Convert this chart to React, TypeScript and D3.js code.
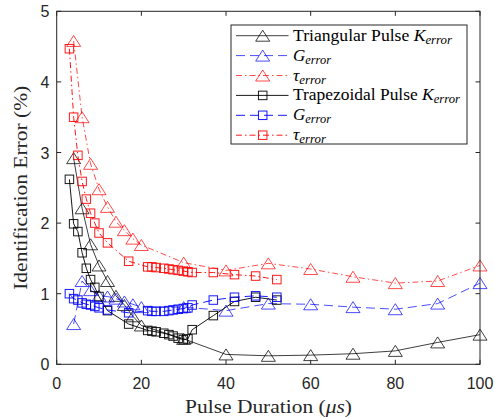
import React from "react";
import * as d3 from "d3";

// ---- data ----
const triX = [4, 6, 8, 10, 12, 14, 16, 18, 20, 30, 40, 50, 60, 70, 80, 90, 100];
const triK = [2.92, 2.21, 1.7, 1.4, 1.18, 0.97, 0.84, 0.68, 0.55, 0.36, 0.14, 0.12, 0.13, 0.15, 0.19, 0.31, 0.42];
const triG = [0.57, 1.18, 1.05, 0.97, 0.96, 0.93, 0.89, 0.85, 0.81, 0.81, 0.76, 0.86, 0.85, 0.81, 0.78, 0.86, 1.15];
const triTau = [4.58, 3.5, 2.84, 2.48, 2.23, 2.02, 1.9, 1.78, 1.69, 1.44, 1.33, 1.43, 1.35, 1.24, 1.15, 1.18, 1.4];

const trapX = [3, 4, 5, 6, 7, 8, 9, 10, 12, 17, 21.5, 22.5, 23.5, 25.3, 26.5, 27.5, 28.7, 29.9, 31, 32, 37, 42, 47, 52];
const trapK = [2.62, 1.99, 1.88, 1.58, 1.36, 1.2, 1.09, 0.96, 0.76, 0.57, 0.48, 0.47, 0.46, 0.44, 0.42, 0.4, 0.37, 0.35, 0.36, 0.49, 0.69, 0.89, 0.95, 0.91];
const trapG = [1.0, 0.93, 0.91, 0.87, 0.85, 0.84, 0.82, 0.8, 0.77, 0.73, 0.76, 0.75, 0.75, 0.75, 0.76, 0.77, 0.78, 0.79, 0.8, 0.84, 0.91, 0.95, 0.97, 0.95];
const trapTau = [4.47, 3.5, 2.96, 2.59, 2.34, 2.14, 2.0, 1.86, 1.72, 1.46, 1.38, 1.38, 1.37, 1.36, 1.35, 1.34, 1.33, 1.32, 1.31, 1.3, 1.3, 1.27, 1.25, 1.2];

const xTicks = [0, 20, 40, 60, 80, 100];
const yTicks = [0, 1, 2, 3, 4, 5];

const legendLabels = [
  { pre: "Triangular Pulse ", sym: "K", len: 159 },
  { pre: "", sym: "G", len: 38 },
  { pre: "", sym: "τ", len: 33 },
  { pre: "Trapezoidal Pulse ", sym: "K", len: 167 },
  { pre: "", sym: "G", len: 38 },
  { pre: "", sym: "τ", len: 33 },
];

// ---- layout ----
const W = 494, H = 418;
const L = 56.7, R = 480, T = 11.3, B = 364.3;
const axisColor = "#262626";

const x = d3.scaleLinear().domain([0, 100]).range([L, R]);
const y = d3.scaleLinear().domain([0, 5]).range([B, T]);

type Series = {
  xs: number[];
  ys: number[];
  color: string;
  opacity: number;
  dash: string | undefined;
  marker: "tri" | "sq";
};

const series: Series[] = [
  { xs: triX, ys: triK, color: "#000000", opacity: 0.75, dash: undefined, marker: "tri" },
  { xs: triX, ys: triG, color: "#0000ff", opacity: 0.7, dash: "9,5", marker: "tri" },
  { xs: triX, ys: triTau, color: "#ff0000", opacity: 0.7, dash: "6,3,1.5,3", marker: "tri" },
  { xs: trapX, ys: trapK, color: "#000000", opacity: 0.9, dash: undefined, marker: "sq" },
  { xs: trapX, ys: trapG, color: "#0000ff", opacity: 0.9, dash: "9,5", marker: "sq" },
  { xs: trapX, ys: trapTau, color: "#ff0000", opacity: 0.9, dash: "6,3,1.5,3", marker: "sq" },
];

const lineGen = d3
  .line<[number, number]>()
  .x((d) => x(d[0]))
  .y((d) => y(d[1]));

function Marker({ cx, cy, kind, color, opacity }: { cx: number; cy: number; kind: string; color: string; opacity: number }) {
  if (kind === "tri") {
    const w = 14, h = 11;
    const p = `M${cx},${cy - h / 2}L${cx + w / 2},${cy + h / 2}L${cx - w / 2},${cy + h / 2}Z`;
    return <path d={p} fill="none" stroke={color} strokeOpacity={opacity} strokeWidth={1} />;
  }
  const s = 8.5;
  return (
    <rect x={cx - s / 2} y={cy - s / 2} width={s} height={s} fill="none" stroke={color} strokeOpacity={opacity} strokeWidth={1} />
  );
}

export default function App() {
  const serif = "'Liberation Serif', 'DejaVu Serif', serif";
  const sans = "'Liberation Sans', Arial, sans-serif";
  const legX = 231, legY = 25, legW = 236, legH = 119;
  return (
    <svg width={W} height={H} style={{ position: "absolute", left: 0, top: 0, background: "#fff" }}>
      <rect x={0} y={0} width={W} height={H} fill="#fff" />
      {/* data */}
      {series.map((s, i) => {
        const pts = s.xs.map((xv, j) => [xv, s.ys[j]] as [number, number]);
        return (
          <g key={i}>
            <path d={lineGen(pts) || ""} fill="none" stroke={s.color} strokeOpacity={s.opacity} strokeWidth={1} strokeDasharray={s.dash} />
            {pts.map((p, j) => (
              <Marker key={j} cx={x(p[0])} cy={y(p[1])} kind={s.marker} color={s.color} opacity={s.opacity} />
            ))}
          </g>
        );
      })}
      {/* axes box */}
      <rect x={L} y={T} width={R - L} height={B - T} fill="none" stroke={axisColor} strokeWidth={1} />
      {xTicks.map((t) => (
        <g key={"xt" + t}>
          <line x1={x(t)} x2={x(t)} y1={B} y2={B - 4.5} stroke={axisColor} />
          <line x1={x(t)} x2={x(t)} y1={T} y2={T + 4.5} stroke={axisColor} />
          <text x={x(t)} y={389} textAnchor="middle" fontFamily={sans} fontSize={16} fill={axisColor}>
            {t}
          </text>
        </g>
      ))}
      {yTicks.map((t) => (
        <g key={"yt" + t}>
          <line x1={L} x2={L + 4.5} y1={y(t)} y2={y(t)} stroke={axisColor} />
          <line x1={R} x2={R - 4.5} y1={y(t)} y2={y(t)} stroke={axisColor} />
          <text x={49.5} y={y(t) + 6} textAnchor="end" fontFamily={sans} fontSize={16} fill={axisColor}>
            {t}
          </text>
        </g>
      ))}
      {/* axis labels */}
      <text x={268.5} y={413} textAnchor="middle" fontFamily={serif} fontSize={18} fill={axisColor} textLength={167} lengthAdjust="spacingAndGlyphs">
        Pulse Duration (<tspan fontStyle="italic">μs</tspan>)
      </text>
      <text
        transform={`translate(27,${(T + B) / 2}) rotate(-90)`}
        textAnchor="middle"
        fontFamily={serif}
        fontSize={18}
        fill={axisColor}
        textLength={204}
        lengthAdjust="spacingAndGlyphs"
      >
        Identification Error (%)
      </text>
      {/* legend */}
      <rect x={legX} y={legY} width={legW} height={legH} fill="#fff" stroke={axisColor} strokeWidth={1} />
      {series.map((s, i) => {
        const cy = 35.7 + i * 19.9;
        const lab = legendLabels[i];
        return (
          <g key={"lg" + i}>
            <line x1={236} x2={288.5} y1={cy} y2={cy} stroke={s.color} strokeOpacity={s.opacity} strokeWidth={1} strokeDasharray={s.dash} />
            <Marker cx={262.7} cy={cy} kind={s.marker} color={s.color} opacity={s.opacity} />
            <text
              x={293}
              y={cy + 5}
              fontFamily={serif}
              fontSize={16.5}
              fill="#000"
              textLength={lab.len}
              lengthAdjust="spacingAndGlyphs"
            >
              {lab.pre}
              <tspan fontStyle="italic">{lab.sym}</tspan>
              <tspan fontStyle="italic" fontSize={12} dy={3}>
                error
              </tspan>
            </text>
          </g>
        );
      })}
    </svg>
  );
}
